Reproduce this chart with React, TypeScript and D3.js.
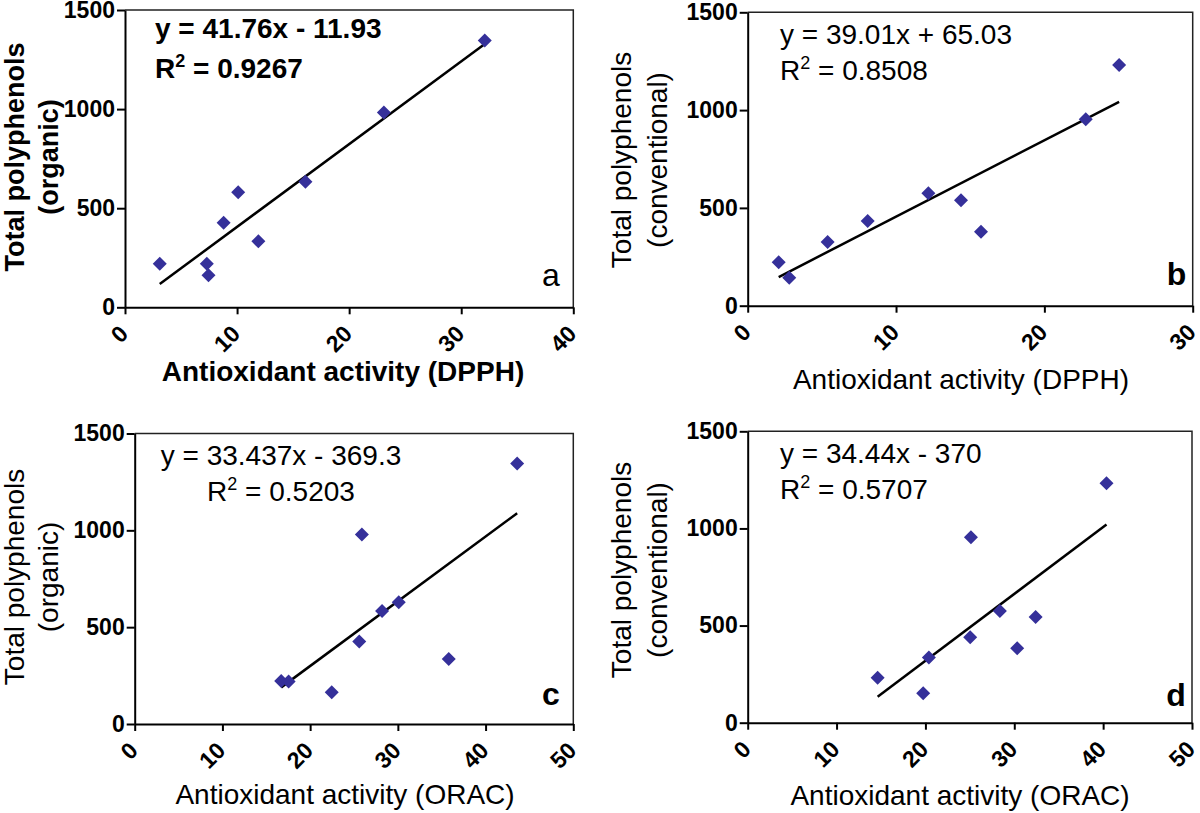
import React, { useEffect, useRef } from 'react';
import * as d3 from 'd3';

// values
const dpphOrganic = [3.1, 7.3, 7.45, 8.8, 10.1, 11.9, 16.1, 23.1, 32.1];
const polyOrganicA = [220, 220, 162, 426, 581, 333, 633, 983, 1346];
const dpphConventional = [2.09, 2.8, 5.39, 8.09, 12.18, 14.38, 15.73, 22.79, 25.04];
const polyConventionalB = [222, 143, 326, 433, 575, 539, 378, 953, 1231];
const oracOrganic = [16.7, 17.55, 22.46, 25.6, 25.9, 28.2, 30.1, 35.8, 43.6];
const polyOrganicC = [222, 219, 164, 426, 979, 584, 629, 335, 1345];
const oracConventional = [14.62, 19.75, 20.39, 25.04, 25.12, 28.38, 30.33, 32.4, 40.38];
const polyConventionalD = [232, 151, 335, 440, 954, 575, 383, 544, 1232];

const fits = [
  { slope: 41.76, intercept: -11.93, eq: 'y = 41.76x - 11.93', r2: '0.9267' },
  { slope: 39.01, intercept: 65.03, eq: 'y = 39.01x + 65.03', r2: '0.8508' },
  { slope: 33.437, intercept: -369.3, eq: 'y = 33.437x - 369.3', r2: '0.5203' },
  { slope: 34.44, intercept: -370, eq: 'y = 34.44x - 370', r2: '0.5707' },
];

const xMaxes = [40, 30, 50, 50];
const yTicks = [0, 500, 1000, 1500];
const xTitles = ['Antioxidant activity (DPPH)', 'Antioxidant activity (DPPH)', 'Antioxidant activity (ORAC)', 'Antioxidant activity (ORAC)'];
const yTitles = [['Total polyphenols', '(organic)'], ['Total polyphenols', '(conventional)'], ['Total polyphenols', '(organic)'], ['Total polyphenols', '(conventional)']];
const letters = ['a', 'b', 'c', 'd'];

const series = [
  { x: dpphOrganic, y: polyOrganicA },
  { x: dpphConventional, y: polyConventionalB },
  { x: oracOrganic, y: polyOrganicC },
  { x: oracConventional, y: polyConventionalD },
];

// layout of each panel (pixels)
const layout = [
  { l: 125, r: 573.3, t: 10, b: 307.3, bold: true, eqX: 155, eqY: [38.3, 78.3], eqAnchor: 'start', yT: [24, 58], yC: 157, ytSize: 27, xtY: 381, xtC: 343, letterBold: false, lX: 551, lY: 286 },
  { l: 747.7, r: 1192.7, t: 12.3, b: 305.7, bold: false, eqX: 780, eqY: [44.3, 80], eqAnchor: 'start', yT: [631, 667], yC: 160, ytSize: 28, xtY: 389, xtC: 961, letterBold: true, lX: 1176.5, lY: 285 },
  { l: 134.7, r: 573.3, t: 433.5, b: 724, bold: false, eqX: 281, eqY: [465, 500.7], eqAnchor: 'middle', yT: [24, 58], yC: 577, ytSize: 28, xtY: 804, xtC: 345, letterBold: true, lX: 551, lY: 705 },
  { l: 747.7, r: 1192, t: 431.3, b: 722.7, bold: false, eqX: 780, eqY: [463, 499], eqAnchor: 'start', yT: [631, 667], yC: 570, ytSize: 28, xtY: 805, xtC: 960, letterBold: true, lX: 1176, lY: 705.5 },
];

const FONT = '"Liberation Sans", Arial, sans-serif';
const MARK = '#35309a';

export default function App() {
  const svgRef = useRef<SVGSVGElement | null>(null);

  useEffect(() => {
    const svg = d3.select(svgRef.current);
    svg.selectAll('*').remove();
    svg.append('rect').attr('width', 1200).attr('height', 813).attr('fill', 'white');

    layout.forEach((p, i) => {
      const g = svg.append('g').attr('font-family', FONT);
      const x = d3.scaleLinear().domain([0, xMaxes[i]]).range([p.l, p.r]);
      const y = d3.scaleLinear().domain([0, 1500]).range([p.b, p.t]);

      // frame top/right
      g.append('path')
        .attr('d', `M${p.l},${p.t}H${p.r}V${p.b}`)
        .attr('fill', 'none').attr('stroke', '#222').attr('stroke-width', 1.5);

      // y axis
      const ya = g.append('g').attr('transform', `translate(${p.l},0)`)
        .call(d3.axisLeft(y).tickValues(yTicks).tickFormat(d3.format('d')).tickSize(8).tickPadding(2).tickSizeOuter(0));
      ya.attr('font-size', null).attr('font-family', null);
      ya.select('.domain').attr('stroke', '#000').attr('stroke-width', 2);
      ya.selectAll('.tick line').attr('stroke', '#000').attr('stroke-width', 2);
      ya.selectAll('.tick text').attr('font-size', 23).attr('font-weight', 'bold')
        .attr('fill', '#000');

      // x axis
      const xa = g.append('g').attr('transform', `translate(0,${p.b})`)
        .call(d3.axisBottom(x).ticks(xMaxes[i] / 10).tickFormat(d3.format('d')).tickSize(7).tickSizeOuter(0));
      xa.attr('font-size', null).attr('font-family', null);
      xa.select('.domain').attr('stroke', '#000').attr('stroke-width', 2);
      xa.selectAll('.tick line').attr('stroke', '#000').attr('stroke-width', 2);
      xa.selectAll('.tick text')
        .attr('y', null).attr('dy', null)
        .attr('text-anchor', 'end')
        .attr('transform', 'translate(4,28) rotate(-45)')
        .attr('font-size', 23).attr('font-weight', 'bold')
        .attr('fill', '#000');

      // regression line
      const s = series[i];
      const f = fits[i];
      const ext = d3.extent(s.x) as [number, number];
      g.append('path')
        .datum(ext)
        .attr('d', d3.line<number>().x(v => x(v)).y(v => y(f.slope * v + f.intercept)))
        .attr('stroke', '#000').attr('stroke-width', 2.5).attr('fill', 'none');

      // points
      const diamond = d3.symbol().type(d3.symbolSquare).size(98);
      g.append('g').selectAll('path')
        .data(s.x.map((v, k) => [v, s.y[k]]))
        .enter().append('path')
        .attr('d', diamond)
        .attr('transform', d => `translate(${x(d[0])},${y(d[1])}) rotate(45)`)
        .attr('fill', MARK);

      // equation text
      const weight = p.bold ? 'bold' : 'normal';
      g.append('text')
        .attr('x', p.eqX).attr('y', p.eqY[0])
        .attr('text-anchor', p.eqAnchor).attr('font-size', 28).attr('font-weight', weight)
        .text(f.eq);
      const r2 = g.append('text')
        .attr('x', p.eqX).attr('y', p.eqY[1])
        .attr('text-anchor', p.eqAnchor).attr('font-size', 28).attr('font-weight', weight);
      r2.append('tspan').text('R');
      r2.append('tspan').attr('dy', -11).attr('font-size', 18).text('2');
      r2.append('tspan').attr('dy', 11).text(` = ${f.r2}`);

      // axis titles
      g.append('text')
        .attr('x', p.xtC).attr('y', p.xtY)
        .attr('text-anchor', 'middle').attr('font-size', 28).attr('font-weight', weight)
        .text(xTitles[i]);
      yTitles[i].forEach((line, k) => {
        g.append('text')
          .attr('transform', `translate(${p.yT[k]},${p.yC}) rotate(-90)`)
          .attr('text-anchor', 'middle').attr('font-size', p.ytSize).attr('font-weight', weight)
          .text(line);
      });

      // panel letter
      g.append('text')
        .attr('x', p.lX).attr('y', p.lY)
        .attr('text-anchor', 'middle').attr('font-size', 32)
        .attr('font-weight', p.letterBold ? 'bold' : 'normal')
        .text(letters[i]);
    });
  }, []);

  return (
    <svg ref={svgRef} width={1200} height={813}
      style={{ position: 'absolute', left: 0, top: 0, display: 'block' }} />
  );
}
